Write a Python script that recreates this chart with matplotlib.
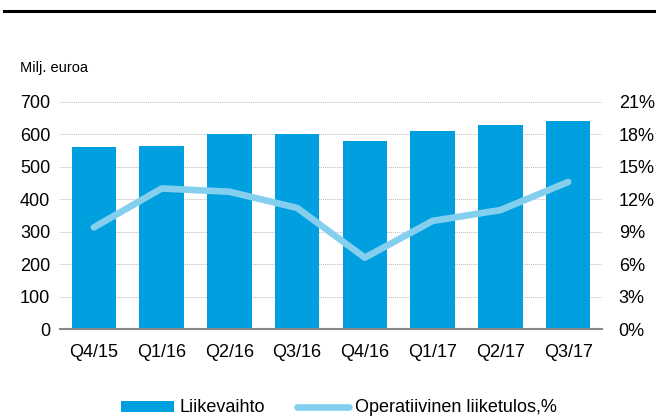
import matplotlib.pyplot as plt
import numpy as np

plt.rcParams["font.family"] = ["Liberation Sans", "DejaVu Sans"]

quarters = ["Q4/15", "Q1/16", "Q2/16", "Q3/16", "Q4/16", "Q1/17", "Q2/17", "Q3/17"]
revenue = [560, 565, 600, 600, 580, 612, 630, 640]
margin_pct = [9.4, 13.0, 12.7, 11.2, 6.6, 10.0, 11.0, 13.6]
left_ticks = [0, 100, 200, 300, 400, 500, 600, 700]
right_ticks = [0, 3, 6, 9, 12, 15, 18, 21]

bar_color = "#009fdf"
line_color = "#84cfee"

fig = plt.figure(figsize=(6.56, 4.17), dpi=100)
ax = fig.add_axes([60 / 656, 1 - 329 / 417, 542 / 656, 227 / 417])
x = np.arange(len(quarters))

ax.bar(x, revenue, width=0.66, color=bar_color, zorder=2, label="Liikevaihto")
ax.set_xlim(-0.5, len(quarters) - 0.5)
ax.set_ylim(0, 700)
ax.set_yticks(left_ticks)
ax.set_xticks(x)
ax.set_xticklabels(quarters)
ax.grid(axis="y", color="#bbbbbb", linestyle=(0, (1, 1)), linewidth=0.7, zorder=0)
ax.set_axisbelow(True)
for s in ["top", "left", "right"]:
    ax.spines[s].set_visible(False)
ax.spines["bottom"].set_color("#888888")
ax.spines["bottom"].set_linewidth(1.5)
ax.tick_params(length=0, labelsize=13, pad=7)
ax.tick_params(axis="x", pad=11)

ax2 = ax.twinx()
ax2.plot(x, margin_pct, color=line_color, linewidth=4.8, solid_capstyle="round",
         label="Operatiivinen liiketulos,%", zorder=3)
ax2.set_ylim(0, 21)
ax2.set_yticks(right_ticks)
ax2.set_yticklabels([f"{v}%" for v in right_ticks])
for s in ["top", "left", "right", "bottom"]:
    ax2.spines[s].set_visible(False)
ax2.tick_params(length=0, labelsize=13, pad=12)

fig.text(20 / 656, 1 - 68 / 417, "Milj. euroa", fontsize=10.5, va="center", ha="left")

# top rule
fig.add_artist(plt.Line2D([4 / 656, 1], [1 - 11 / 417] * 2, color="black", linewidth=2.2))

h1, l1 = ax.get_legend_handles_labels()
h2, l2 = ax2.get_legend_handles_labels()
fig.legend(h1 + h2, l1 + l2, loc="center", bbox_to_anchor=(339 / 656, 1 - 408 / 417),
           ncol=2, frameon=False, fontsize=13, handlelength=2.9, handleheight=0.55,
           columnspacing=1.8, handletextpad=0.3)

fig.savefig("out.png", dpi=100)
